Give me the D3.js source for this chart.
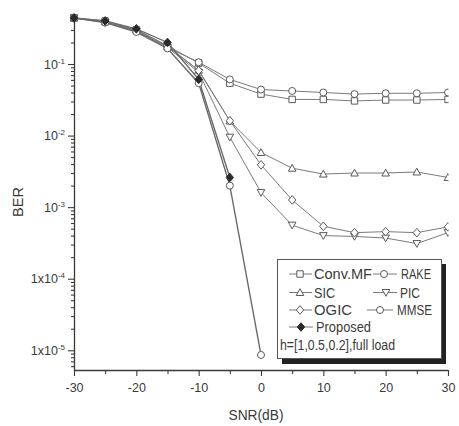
<!DOCTYPE html>
<html>
<head>
<meta charset="utf-8">
<script src="https://cdn.jsdelivr.net/npm/d3@7/dist/d3.min.js"></script>
<style>
  html, body { margin: 0; padding: 0; background: #fff; }
  svg { display: block; font-family: Arial, "Liberation Sans", Helvetica, sans-serif; }
</style>
</head>
<body>
<svg id="chart" width="459" height="426"></svg>
<script>
// ---------- data ----------
const snr = [-30, -25, -20, -15, -10, -5, 0, 5, 10, 15, 20, 25, 30];
const convMF   = [0.44, 0.40, 0.30, 0.18, 0.103, 0.054, 0.038, 0.032, 0.032, 0.0305, 0.0314, 0.0314, 0.032];
const rake     = [0.44, 0.39, 0.29, 0.17, 0.106, 0.061, 0.044, 0.042, 0.040, 0.038, 0.039, 0.039, 0.040];
const sic      = [0.44, 0.39, 0.30, 0.175, 0.082, 0.016, 0.0058, 0.0035, 0.0029, 0.0030, 0.0030, 0.0031, 0.0026];
const pic      = [0.44, 0.38, 0.29, 0.17, 0.077, 0.0095, 0.0016, 0.00056, 0.00040, 0.00039, 0.00037, 0.00031, 0.00044];
const ogic     = [0.44, 0.39, 0.30, 0.18, 0.081, 0.0161, 0.0039, 0.00126, 0.00054, 0.00044, 0.000455, 0.00044, 0.00053];
const mmse     = [0.44, 0.38, 0.28, 0.165, 0.054, 0.0020, 0.0000086];
const proposed = [0.44, 0.40, 0.31, 0.20, 0.061, 0.0026];

const seriesNames = ["Conv.MF", "RAKE", "SIC", "PIC", "OGIC", "MMSE", "Proposed"];
const seriesValues = [convMF, rake, sic, pic, ogic, mmse, proposed];
const seriesMarkers = ["square", "circle", "triUp", "triDown", "diamond", "circle", "diamondFilled"];

const xTickValues = [-30, -20, -10, 0, 10, 20, 30];
const xTickLabels = ["-30", "-20", "-10", "0", "10", "20", "30"];
const xMinorTicks = [-25, -15, -5, 5, 15, 25];
const yTickValues = [1e-1, 1e-2, 1e-3, 1e-4, 1e-5];
const yTickBase = ["10", "10", "10", "1x10", "1x10"];
const yTickExp = ["-1", "-2", "-3", "-4", "-5"];
const xTitle = "SNR(dB)";
const yTitle = "BER";
const legendNote = "h=[1,0.5,0.2],full load";

// ---------- layout ----------
const svg = d3.select("#chart");
const pLeft = 74, pRight = 448, pTop = 14, pBottom = 370;
const x = d3.scaleLinear().domain([-30, 30]).range([pLeft, pRight]);
const y = d3.scaleLog().domain([5.3e-6, 0.5]).range([pBottom, pTop]);

const axisColor = "#3a3a3a";
const textColor = "#3a3a3a";
const lineColor = "#7a7a7a";
const markColor = "#5a5a5a";

// clip (markers at 30 dB are cut in half in the reference)
svg.append("defs").append("clipPath").attr("id", "plotclip")
  .append("rect").attr("x", 0).attr("y", 0).attr("width", pRight + 0.5).attr("height", 426);

// ---------- axes ----------
const yMinor = [];
for (let e = -6; e <= 0; e++) {
  for (let m = 2; m <= 9; m++) {
    const v = m * Math.pow(10, e);
    if (v >= 5.3e-6 && v <= 0.5) yMinor.push(v);
  }
}

const gx = svg.append("g").attr("transform", `translate(0,${pBottom})`)
  .call(d3.axisBottom(x).tickValues(xTickValues).tickSize(6).tickSizeOuter(0)
    .tickFormat((d, i) => xTickLabels[i]));
gx.append("g").call(d3.axisBottom(x).tickValues(xMinorTicks).tickSize(4).tickFormat(""))
  .select(".domain").remove();

const gy = svg.append("g").attr("transform", `translate(${pLeft},0)`)
  .call(d3.axisLeft(y).tickValues(yTickValues).tickSize(6).tickSizeOuter(0).tickFormat(""));
gy.append("g").call(d3.axisLeft(y).tickValues(yMinor).tickSize(3).tickFormat(""))
  .select(".domain").remove();

svg.selectAll(".domain").attr("stroke", axisColor).attr("stroke-width", 1.3);
svg.selectAll(".tick line").attr("stroke", axisColor).attr("stroke-width", 1.1);
gx.selectAll(".tick text").attr("fill", textColor).attr("font-size", 12.5)
  .attr("font-family", "Arial, 'Liberation Sans', sans-serif").attr("dy", "1.05em");

// y tick labels with superscript
const yl = svg.append("g");
yTickValues.forEach((v, i) => {
  const t = yl.append("text")
    .attr("x", pLeft - 9).attr("y", y(v) + 4.5)
    .attr("text-anchor", "end").attr("fill", textColor).attr("font-size", 12.5);
  t.append("tspan").text(yTickBase[i]);
  t.append("tspan").attr("dy", -5).attr("font-size", 8).text(yTickExp[i]);
});

// axis titles
svg.append("text").attr("x", (pLeft + pRight) / 2 - 5).attr("y", 420)
  .attr("text-anchor", "middle").attr("fill", textColor).attr("font-size", 14.5)
  .attr("textLength", 55).attr("lengthAdjust", "spacingAndGlyphs").text(xTitle);
svg.append("text").attr("transform", "translate(23,202) rotate(-90)")
  .attr("text-anchor", "middle").attr("fill", textColor).attr("font-size", 14.5).text(yTitle);

// ---------- markers ----------
function markerPath(type) {
  switch (type) {
    case "square": return "M-3.2,-3.2H3.2V3.2H-3.2Z";
    case "circle": return "M3.5,0A3.5,3.5 0 1,1 -3.5,0A3.5,3.5 0 1,1 3.5,0Z";
    case "triUp": return "M0,-3.8L3.8,3L-3.8,3Z";
    case "triDown": return "M0,3.8L3.8,-3L-3.8,-3Z";
    case "diamond": return "M0,-4.3L3.7,0L0,4.3L-3.7,0Z";
    case "diamondFilled": return "M0,-4.3L3.7,0L0,4.3L-3.7,0Z";
  }
}
function drawMarker(g, type, cx, cy) {
  g.append("path").attr("d", markerPath(type))
    .attr("transform", `translate(${cx},${cy})`)
    .attr("fill", type === "diamondFilled" ? "#2a2a2a" : "#fff")
    .attr("stroke", type === "diamondFilled" ? "#2a2a2a" : markColor)
    .attr("stroke-width", 1);
}

const plot = svg.append("g").attr("clip-path", "url(#plotclip)");
const line = d3.line().x(d => x(d[0])).y(d => y(d[1]));

seriesValues.forEach((vals, si) => {
  const pts = vals.map((v, i) => [snr[i], v]);
  const heavy = seriesNames[si] === "MMSE" || seriesNames[si] === "Proposed";
  plot.append("path").datum(pts).attr("d", line)
    .attr("fill", "none").attr("stroke", heavy ? "#6a6a6a" : lineColor)
    .attr("stroke-width", heavy ? 1.4 : 1);
});
seriesValues.forEach((vals, si) => {
  vals.forEach((v, i) => drawMarker(plot, seriesMarkers[si], x(snr[i]), y(v)));
});

// ---------- legend ----------
const lg = svg.append("g");
lg.append("rect").attr("x", 282).attr("y", 264).attr("width", 164).attr("height", 100).attr("fill", "#222");
lg.append("rect").attr("x", 277.5).attr("y", 259.5).attr("width", 164).attr("height", 99)
  .attr("fill", "#fff").attr("stroke", "#555").attr("stroke-width", 1);

const legendItems = [
  { s: 0, y: 274,   x1: 289, x2: 312, mx: 300, tx: 314, tw: 58 },
  { s: 1, y: 274,   x1: 373, x2: 397, mx: 384, tx: 401, tw: 30 },
  { s: 2, y: 292.5, x1: 289, x2: 312, mx: 300, tx: 314, tw: 21 },
  { s: 3, y: 292.5, x1: 373, x2: 397, mx: 386, tx: 400, tw: 20 },
  { s: 4, y: 310,   x1: 289, x2: 312, mx: 300, tx: 314, tw: 38 },
  { s: 5, y: 310,   x1: 367, x2: 393, mx: 380, tx: 397, tw: 35 },
  { s: 6, y: 327,   x1: 289, x2: 313, mx: 301, tx: 316, tw: 55 }
];
legendItems.forEach(it => {
  lg.append("line").attr("x1", it.x1).attr("x2", it.x2).attr("y1", it.y).attr("y2", it.y)
    .attr("stroke", lineColor).attr("stroke-width", 1);
  drawMarker(lg, seriesMarkers[it.s], it.mx, it.y);
  lg.append("text").attr("x", it.tx).attr("y", it.y + 5).attr("fill", textColor)
    .attr("font-size", 14).attr("textLength", it.tw).attr("lengthAdjust", "spacingAndGlyphs")
    .text(seriesNames[it.s]);
});
lg.append("text").attr("x", 280).attr("y", 350).attr("fill", textColor)
  .attr("font-size", 14).attr("textLength", 115).attr("lengthAdjust", "spacingAndGlyphs")
  .text(legendNote);
</script>
</body>
</html>
